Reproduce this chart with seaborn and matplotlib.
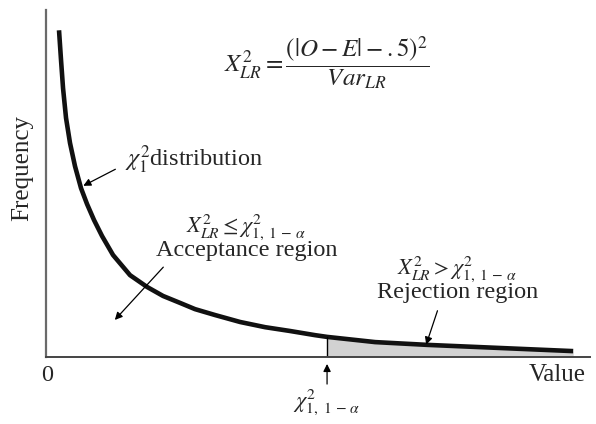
import numpy as np
import pandas as pd
import seaborn as sns
import matplotlib.pyplot as plt

# Curve (Value, Frequency)
value = [0.239, 0.276, 0.313, 0.368, 0.441, 0.533, 0.643, 0.754, 0.882, 1.029,
         1.232, 1.544, 1.857, 2.151, 2.463, 2.739, 3.107, 3.566, 4.026, 4.485,
         4.945, 5.165, 6.048, 7.004, 8.346, 9.688]
freq = [0.942, 0.856, 0.775, 0.689, 0.617, 0.550, 0.487, 0.441, 0.395, 0.349,
        0.294, 0.236, 0.202, 0.176, 0.156, 0.138, 0.121, 0.101, 0.086, 0.075,
        0.063, 0.058, 0.043, 0.035, 0.026, 0.017]
critical = 5.165

df = pd.DataFrame({"Value": value, "Frequency": freq})

sns.set_theme(style="white")
plt.rcParams["font.family"] = ["Liberation Serif", "DejaVu Serif"]
plt.rcParams["mathtext.fontset"] = "stix"

fig = plt.figure(figsize=(5.96, 4.24), dpi=100)
ax = fig.add_axes([0.0772, 0.158, 0.913, 0.818])

sns.lineplot(data=df, x="Value", y="Frequency", ax=ax, color="#111111", lw=3.3,
             sort=False, solid_capstyle="butt", solid_joinstyle="round")

# rejection region
tail = df[df["Value"] >= critical]
ax.fill_between(tail["Value"], 0, tail["Frequency"], color="#d2d2d2", lw=0)
ax.plot([critical, critical], [0, tail["Frequency"].iloc[0]], color="black", lw=1)

ax.set_xlim(0, 10)
ax.set_ylim(0, 1)
ax.set_xticks([])
ax.set_yticks([])
ax.set_xlabel("")
ax.set_ylabel("")
for s in ["top", "right"]:
    ax.spines[s].set_visible(False)
ax.spines["left"].set_color("#6a6a6a")
ax.spines["bottom"].set_color("#444444")
ax.spines["left"].set_linewidth(1.6)
ax.spines["bottom"].set_linewidth(1.4)

fs = 17.5
mfs = 16
ax.text(-0.44, 0.545, "Frequency", rotation=90, ha="center", va="center", fontsize=18)
ax.text(0.02, -0.052, "0", ha="center", va="center", fontsize=fs)
ax.text(9.39, -0.052, "Value", ha="center", va="center", fontsize=18)

ax.text(5.15, 0.847, r"$X^2_{LR} = \dfrac{(|O - E| - .5)^2}{Var_{LR}}$",
        ha="center", va="center", fontsize=18)

arrow = dict(arrowstyle="-|>", color="black", lw=0.9, mutation_scale=11)

ax.text(1.456, 0.548, r"$\chi^2_1$distribution", ha="left", va="baseline", fontsize=fs)
ax.annotate("", xy=(0.64, 0.49), xytext=(1.32, 0.545), arrowprops=arrow)

ax.text(3.68, 0.362, r"$X^2_{LR} \leq \chi^2_{1,\ 1\,-\,\alpha}$", ha="center", va="baseline", fontsize=mfs)
ax.text(3.68, 0.291, "Acceptance region", ha="center", va="baseline", fontsize=fs)
ax.annotate("", xy=(1.23, 0.101), xytext=(2.19, 0.265), arrowprops=arrow)

ax.text(7.56, 0.239, r"$X^2_{LR} > \chi^2_{1,\ 1\,-\,\alpha}$", ha="center", va="baseline", fontsize=mfs)
ax.text(7.56, 0.170, "Rejection region", ha="center", va="baseline", fontsize=fs)
ax.annotate("", xy=(6.97, 0.028), xytext=(7.21, 0.141), arrowprops=arrow)

ax.annotate("", xy=(critical, -0.012), xytext=(critical, -0.086), arrowprops=arrow,
            annotation_clip=False)
ax.text(critical, -0.13, r"$\chi^2_{1,\ 1\,-\,\alpha}$", ha="center", va="center", fontsize=mfs)

fig.savefig("out.png", dpi=100)
